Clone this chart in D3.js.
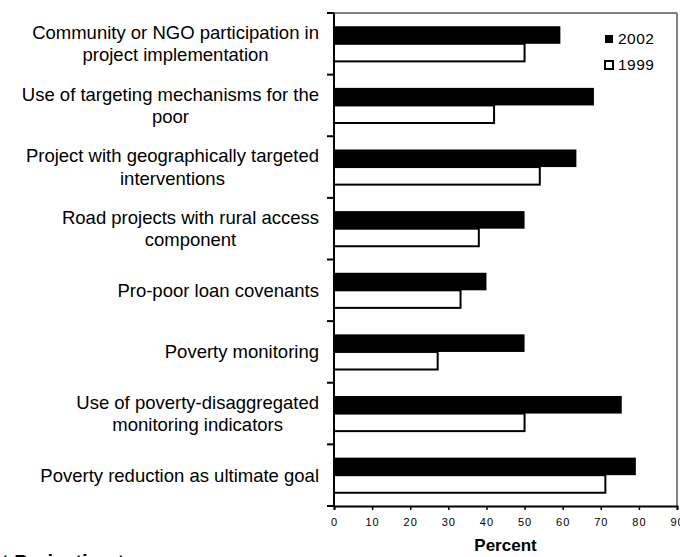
<!DOCTYPE html>
<html>
<head>
<meta charset="utf-8">
<script src="https://cdn.jsdelivr.net/npm/d3@7"></script>
<style>
  body { margin: 0; background: #fff; }
  svg { display: block; font-family: Arial, "Liberation Sans", sans-serif; }
</style>
</head>
<body>
<svg width="680" height="557"></svg>
<script>
// categories, top to bottom (each entry = wrapped lines)
var categories = [
  ["Community or NGO participation in", "project implementation"],
  ["Use of targeting mechanisms for the", "poor"],
  ["Project with geographically targeted", "interventions"],
  ["Road projects with rural access", "component"],
  ["Pro-poor loan covenants"],
  ["Poverty monitoring"],
  ["Use of poverty-disaggregated", "monitoring indicators"],
  ["Poverty reduction as ultimate goal"]
];
var seriesNames = ["2002", "1999"];
var values2002 = [59.4, 68.2, 63.6, 50, 40, 50, 75.5, 79.2];
var values1999 = [50, 42, 54, 38, 33.2, 27.2, 50, 71.2];
var xTicks = [0, 10, 20, 30, 40, 50, 60, 70, 80, 90];

var svg = d3.select("svg");
var margin = {top: 13, right: 3, bottom: 51, left: 334};
var width = 680 - margin.left - margin.right,
    height = 557 - margin.top - margin.bottom;

var g = svg.append("g").attr("transform", "translate(" + margin.left + "," + margin.top + ")");

//scales
var x = d3.scaleLinear().domain([0, 90]).range([0, width]);
var y = d3.scaleBand().domain(d3.range(categories.length)).range([0, height])
  .paddingInner(0.43).paddingOuter(0.215);
var ySub = d3.scaleBand().domain(seriesNames).range([0, y.bandwidth()]);

// gray frame top / right
g.append("line").attr("x1", 0).attr("x2", width).attr("y1", 0).attr("y2", 0)
  .attr("stroke", "#808080").attr("stroke-width", 2);
g.append("line").attr("x1", width).attr("x2", width).attr("y1", 0).attr("y2", height)
  .attr("stroke", "#808080").attr("stroke-width", 2);

// bars
var rows = categories.map(function(c, i) { return {i: i, v2002: values2002[i], v1999: values1999[i]}; });

g.selectAll(".b2002").data(rows).enter().append("rect")
  .attr("x", 0)
  .attr("y", function(d) { return y(d.i) + ySub("2002"); })
  .attr("width", function(d) { return x(d.v2002); })
  .attr("height", ySub.bandwidth())
  .attr("fill", "#000");

g.selectAll(".b1999").data(rows).enter().append("rect")
  .attr("x", 0)
  .attr("y", function(d) { return y(d.i) + ySub("1999"); })
  .attr("width", function(d) { return x(d.v1999); })
  .attr("height", ySub.bandwidth())
  .attr("fill", "#fff").attr("stroke", "#000").attr("stroke-width", 2);

// left axis: ticks at band boundaries
var yEdge = d3.scaleLinear().domain([0, categories.length]).range([0, height]);
g.append("line").attr("x1", 0).attr("x2", 0).attr("y1", 0).attr("y2", height)
  .attr("stroke", "#000").attr("stroke-width", 2);
g.selectAll(".ytick").data(d3.range(categories.length + 1)).enter().append("line")
  .attr("x1", -7).attr("x2", 0)
  .attr("y1", function(d) { return yEdge(d); })
  .attr("y2", function(d) { return yEdge(d); })
  .attr("stroke", "#000").attr("stroke-width", 2);

// category labels: block right-aligned, lines centred inside block
categories.forEach(function(lines, i) {
  var cy = y(i) + y.bandwidth() / 2;
  var lh = 22.4;
  var t = g.append("text").attr("font-size", 18.5).attr("fill", "#000")
    .attr("text-anchor", "middle");
  lines.forEach(function(l, k) {
    t.append("tspan").attr("x", 0)
      .attr("y", cy + (k - (lines.length - 1) / 2) * lh).attr("dy", "0.35em").text(l);
  });
  var w = t.node().getBBox().width;
  t.selectAll("tspan").attr("x", -15 - w / 2);
});

// bottom axis
var xAxis = g.append("g").attr("transform", "translate(0," + height + ")")
  .call(d3.axisBottom(x).tickValues(xTicks).tickSize(4).tickPadding(8));
xAxis.select(".domain").attr("stroke", "#000").attr("stroke-width", 2);
xAxis.selectAll(".tick line").attr("stroke-width", 1.5);
xAxis.selectAll("text").attr("font-size", 11).attr("font-family", "Arial, 'Liberation Sans', sans-serif")
  .attr("letter-spacing", 1).attr("fill", "#000");

svg.append("text")
  .attr("x", margin.left + width / 2).attr("y", 551)
  .attr("text-anchor", "middle").attr("font-weight", "bold").attr("font-size", 17)
  .text("Percent");

// legend
var legend = svg.append("g").attr("transform", "translate(605,35)");
seriesNames.forEach(function(s, i) {
  var r = legend.append("rect").attr("x", 0).attr("y", i * 26).attr("width", 8).attr("height", 8);
  if (s === "2002") r.attr("fill", "#000");
  else r.attr("fill", "#fff").attr("stroke", "#000").attr("stroke-width", 2);
  legend.append("text").attr("x", 13).attr("y", i * 26 + 4).attr("dy", "0.35em")
    .attr("font-size", 15.5).attr("letter-spacing", 0.5).text(s);
});

// cut-off text at bottom edge
svg.append("text").attr("x", 2).attr("y", 569).attr("font-size", 20).attr("font-weight", "bold")
  .text("t Projection t");
</script>
</body>
</html>
